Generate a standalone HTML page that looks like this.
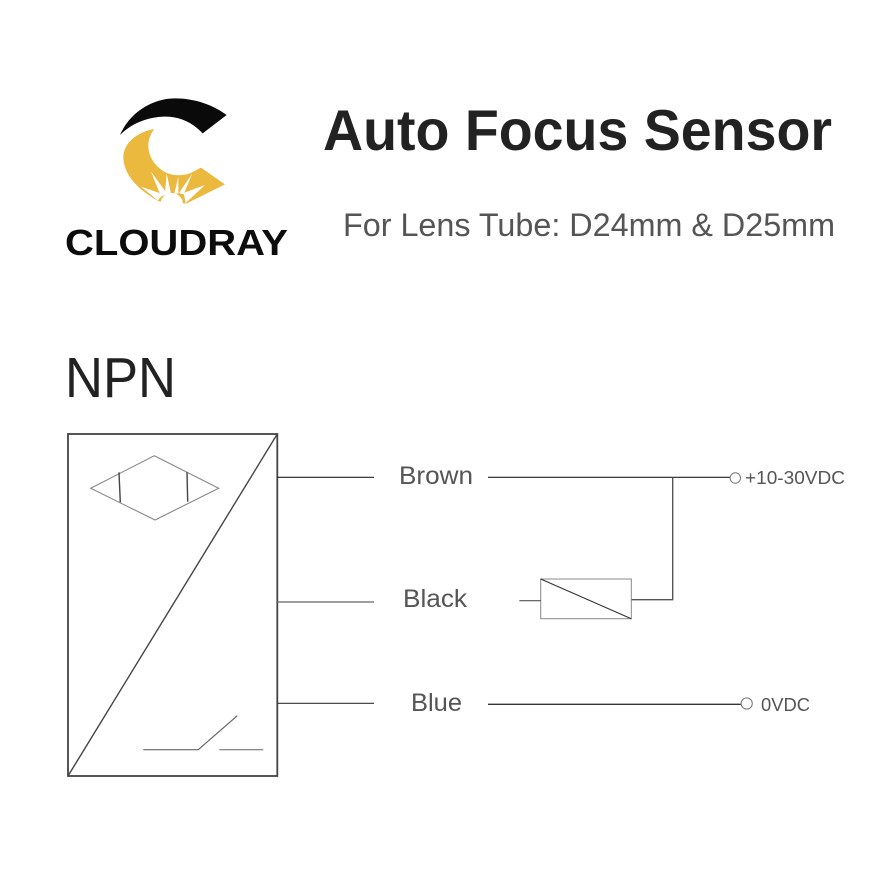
<!DOCTYPE html>
<html><head><meta charset="utf-8"><style>html,body{margin:0;padding:0;background:#fff}svg{display:block}text{font-family:"Liberation Sans",sans-serif}</style></head><body>
<svg width="892" height="892" viewBox="0 0 892 892" xmlns="http://www.w3.org/2000/svg">
<rect width="892" height="892" fill="#fff"/>
<g transform="translate(50,80) scale(0.33333)">
<path d="M210,165 C240,95 310,55 375,55 C435,55 490,75 530,105 L458,160 C425,125 385,108 340,110 C285,112 240,135 210,165Z" fill="#0a0a0a"/>
</g>
<g transform="translate(115,125) scale(0.33333)">
<path d="M118,12 C60,22 25,60 25,95 C25,150 70,195 130,228 L160,236 L215,235 L330,178 L258,128 L235,140 C220,150 175,160 140,135 C100,105 85,55 118,12Z" fill="#ecb93f"/>
<g fill="#fff">
<polygon points="78,185 145,208 128,226"/>
<polygon points="108,140 158,208 138,214"/>
<polygon points="155,145 168,206 150,206"/>
<polygon points="190,155 190,206 178,206"/>
<polygon points="232,145 206,208 192,204"/>
<polygon points="270,180 206,204 212,234"/>
<circle cx="170" cy="238" r="34"/>
</g>
</g>
<text x="65" y="255" font-size="36.5" font-weight="700" fill="#0c0c0c" textLength="223" lengthAdjust="spacingAndGlyphs">CLOUDRAY</text>
<text x="323" y="150" font-size="57.5" font-weight="700" fill="#222" textLength="509" lengthAdjust="spacingAndGlyphs">Auto Focus Sensor</text>
<text x="343" y="236" font-size="32" fill="#555" textLength="492" lengthAdjust="spacingAndGlyphs">For Lens Tube: D24mm &amp; D25mm</text>
<text x="65" y="397" font-size="57" fill="#222" textLength="111" lengthAdjust="spacingAndGlyphs">NPN</text>
<g fill="none" stroke="#444">
<rect x="68" y="434" width="209.3" height="342" stroke-width="1.8"/>
<line x1="68" y1="776" x2="277.3" y2="434" stroke-width="1.4"/>
<path d="M90.7,488.3 L154.3,455.7 L218.7,488.3 L155,520Z" stroke="#888" stroke-width="1.1"/>
<line x1="119" y1="472.3" x2="120.3" y2="502.3" stroke-width="1.4"/>
<line x1="187" y1="472.3" x2="187.7" y2="501.7" stroke-width="1.4"/>
<path d="M143.3,749.7 L198.3,749.7 L237.3,715.7" stroke="#666" stroke-width="1.2"/>
<line x1="219.3" y1="749.7" x2="263.3" y2="749.7" stroke="#777" stroke-width="1.2"/>
<line x1="277" y1="477.3" x2="374" y2="477.3" stroke="#222" stroke-width="1.2"/>
<line x1="277" y1="602" x2="374" y2="602" stroke="#666" stroke-width="1.2"/>
<line x1="277" y1="703.3" x2="374" y2="703.3" stroke="#333" stroke-width="1.2"/>
<line x1="488" y1="477.3" x2="730" y2="477.3" stroke="#222" stroke-width="1.2"/>
<path d="M672.7,477.3 V599.7 H631.3" stroke="#555" stroke-width="1.4"/>
<rect x="540.7" y="579" width="90.6" height="39.7" stroke="#888" stroke-width="1"/>
<line x1="540.7" y1="579" x2="631.3" y2="618.7" stroke="#333" stroke-width="1.1"/>
<line x1="519.3" y1="600.7" x2="541" y2="600.7" stroke="#555" stroke-width="1.2"/>
<line x1="488" y1="704.3" x2="741" y2="704.3" stroke="#333" stroke-width="1.3"/>
<circle cx="735.3" cy="478" r="5.2" stroke="#777" stroke-width="1"/>
<circle cx="746.7" cy="703.5" r="5.6" stroke="#777" stroke-width="1"/>
</g>
<g fill="#555">
<text x="399" y="484" font-size="25" textLength="74" lengthAdjust="spacingAndGlyphs">Brown</text>
<text x="403" y="607" font-size="25" textLength="64" lengthAdjust="spacingAndGlyphs">Black</text>
<text x="411" y="711" font-size="25" textLength="51" lengthAdjust="spacingAndGlyphs">Blue</text>
<text x="745" y="484" font-size="18" textLength="100" lengthAdjust="spacingAndGlyphs">+10-30VDC</text>
<text x="761" y="711" font-size="18" textLength="49" lengthAdjust="spacingAndGlyphs">0VDC</text>
</g>
</svg>
</body></html>
